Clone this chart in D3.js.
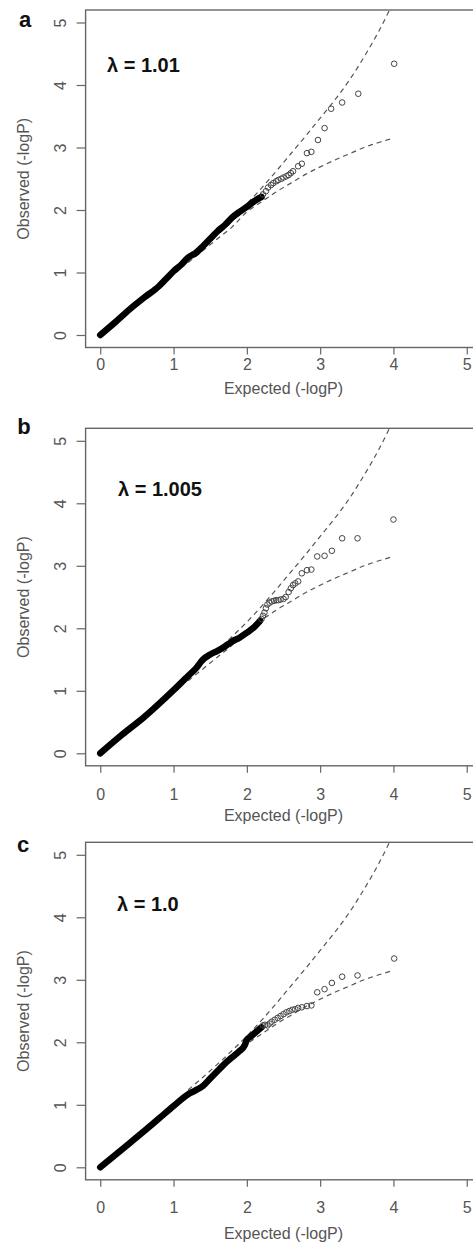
<!DOCTYPE html>
<html>
<head>
<meta charset="utf-8">
<script src="https://cdn.jsdelivr.net/npm/d3@7"></script>
<style>
  body { margin: 0; background: #fff; }
  svg { display: block; font-family: "Liberation Sans", Arial, sans-serif; }
</style>
</head>
<body>
<svg id="G1"></svg>
<script>
//* QQ plots, three panels *//

const PANEL_LETTERS = ['a', 'b', 'c'];
const LAMBDA_LABELS = ['\u03bb = 1.01', '\u03bb = 1.005', '\u03bb = 1.0'];
const X_TICKS = [0, 1, 2, 3, 4, 5];
const Y_TICKS = [0, 1, 2, 3, 4, 5];
const X_TITLE = 'Expected (-logP)';
const Y_TITLE = 'Observed (-logP)';

// dense part of each QQ curve: [expected, observed]
const DENSE_A = [[0,0],[0.2,0.2],[0.4,0.41],[0.6,0.6],[0.8,0.78],[0.9,0.9],[1.0,1.02],[1.1,1.12],[1.2,1.24],[1.3,1.31],[1.4,1.42],[1.5,1.54],[1.6,1.66],[1.7,1.76],[1.8,1.88],[1.9,1.97],[2.0,2.05],[2.1,2.14],[2.2,2.21]];
const DENSE_B = [[0,0],[0.3,0.3],[0.6,0.58],[0.8,0.79],[1.0,1.01],[1.2,1.24],[1.3,1.35],[1.4,1.5],[1.5,1.58],[1.6,1.64],[1.7,1.71],[1.8,1.79],[1.9,1.85],[2.0,1.93],[2.1,2.02],[2.18,2.12]];
const DENSE_C = [[0,0],[0.3,0.29],[0.6,0.58],[0.8,0.78],[1.0,0.98],[1.2,1.17],[1.3,1.23],[1.4,1.3],[1.5,1.42],[1.6,1.54],[1.7,1.66],[1.8,1.76],[1.9,1.86],[1.97,1.95],[2.0,2.04],[2.05,2.09],[2.12,2.16],[2.2,2.24]];

// single points in the tail
const POINTS_A = [[2.22,2.25],[2.26,2.3],[2.29,2.36],[2.33,2.4],[2.36,2.43],[2.4,2.46],[2.43,2.48],[2.47,2.5],[2.5,2.52],[2.54,2.54],[2.57,2.56],[2.6,2.59],[2.63,2.62],[2.7,2.7],[2.75,2.74],[2.82,2.91],[2.88,2.93],[2.97,3.12],[3.06,3.31],[3.15,3.62],[3.3,3.72],[3.52,3.86],[4.01,4.34]];
const POINTS_B = [[2.2,2.15],[2.22,2.2],[2.24,2.25],[2.26,2.32],[2.28,2.38],[2.31,2.41],[2.34,2.43],[2.37,2.44],[2.4,2.45],[2.43,2.45],[2.46,2.46],[2.5,2.47],[2.53,2.5],[2.57,2.58],[2.6,2.64],[2.63,2.69],[2.66,2.72],[2.7,2.75],[2.75,2.88],[2.82,2.93],[2.88,2.94],[2.96,3.15],[3.06,3.16],[3.16,3.24],[3.3,3.44],[3.51,3.44],[4.0,3.74]];
const POINTS_C = [[2.22,2.27],[2.25,2.28],[2.28,2.27],[2.31,2.3],[2.34,2.33],[2.38,2.36],[2.42,2.39],[2.46,2.42],[2.5,2.45],[2.54,2.48],[2.58,2.5],[2.62,2.52],[2.66,2.53],[2.7,2.55],[2.75,2.56],[2.82,2.58],[2.88,2.59],[2.96,2.8],[3.06,2.85],[3.16,2.95],[3.3,3.05],[3.51,3.07],[4.01,3.34]];

// confidence band (dashed), same in all panels
const BAND_UPPER = [[1.2,1.24],[1.4,1.44],[1.6,1.65],[1.8,1.87],[2.0,2.1],[2.2,2.35],[2.4,2.62],[2.6,2.9],[2.8,3.18],[3.0,3.47],[3.2,3.76],[3.4,4.08],[3.6,4.45],[3.8,4.86],[4.0,5.33]];
const BAND_LOWER = [[1.2,1.16],[1.4,1.35],[1.6,1.54],[1.8,1.73],[2.0,1.97],[2.2,2.13],[2.4,2.29],[2.6,2.43],[2.8,2.57],[3.0,2.69],[3.2,2.8],[3.4,2.9],[3.6,3.0],[3.8,3.08],[4.0,3.15]];

const DENSE = [DENSE_A, DENSE_B, DENSE_C];
const POINTS = [POINTS_A, POINTS_B, POINTS_C];

// layout
const WIDTH = 473;
const HEIGHT = 1245;
const LEFT = 85.6;
const PLOT_W = 395.8;
const PLOT_H = 337.5;
const TOPS = [10, 428.3, 842.3];
const TICK_PAD = [4.5, 15.5, 15];
const TITLE_OFF = [41, 50, 54];
const LAMBDA_POS = [[107, 72], [118, 496], [117, 911]];
const LETTER_POS = [[25, 27], [24, 434], [23, 852]];

const AXIS_COLOR = '#666';
const TEXT_COLOR = '#555';
const FONT = '"Liberation Sans", Arial, sans-serif';

const svg = d3.select('#G1')
.attr('width', WIDTH)
.attr('height', HEIGHT)
;

svg.append('rect')
.attr('width', WIDTH)
.attr('height', HEIGHT)
.attr('fill', '#fff');

//Scales (R default 4% extension of 0..5)
const xScale = d3.scaleLinear().domain([-0.2, 5.2]).range([LEFT, LEFT + PLOT_W]);

const line = d3.line()
   .x(d => xScale(d[0]))
   .curve(d3.curveMonotoneX);

PANEL_LETTERS.forEach((letter, i) => {
   const top = TOPS[i];
   const yScale = d3.scaleLinear().domain([-0.2, 5.2]).range([top + PLOT_H, top]);
   line.y(d => yScale(d[1]));

   const panel = svg.append('g');

   panel.append('clipPath')
   .attr('id', 'clip-' + letter)
   .append('rect')
   .attr('x', LEFT)
   .attr('y', top)
   .attr('width', PLOT_W)
   .attr('height', PLOT_H);

   const plot = panel.append('g').attr('clip-path', `url(#clip-${letter})`);

   // dashed band
   [BAND_UPPER, BAND_LOWER].forEach(band => {
      plot.append('path')
      .datum(band)
      .attr('d', line)
      .attr('fill', 'none')
      .attr('stroke', '#555')
      .attr('stroke-width', 1.2)
      .attr('stroke-dasharray', '5,4');
   });

   // dense points drawn as thick stroke
   plot.append('path')
   .datum(DENSE[i])
   .attr('d', line)
   .attr('fill', 'none')
   .attr('stroke', '#000')
   .attr('stroke-width', 6.5)
   .attr('stroke-linecap', 'round')
   .attr('stroke-linejoin', 'round');

   // tail points
   plot.selectAll('.pt')
   .data(POINTS[i])
   .enter()
   .append('circle')
   .classed('pt', true)
   .attr('cx', d => xScale(d[0]))
   .attr('cy', d => yScale(d[1]))
   .attr('r', 2.8)
   .attr('fill', 'none')
   .attr('stroke', '#444')
   .attr('stroke-width', 1);

   // box
   panel.append('rect')
   .attr('x', LEFT)
   .attr('y', top)
   .attr('width', PLOT_W)
   .attr('height', PLOT_H)
   .attr('fill', 'none')
   .attr('stroke', AXIS_COLOR)
   .attr('stroke-width', 1.4);

   //X-AXIS
   const xAxis = panel.append('g')
   .attr('transform', `translate(0, ${top + PLOT_H})`)
   .call(d3.axisBottom(xScale).tickValues(X_TICKS).tickFormat(d3.format('d'))
      .tickSize(7).tickSizeOuter(0).tickPadding(TICK_PAD[i]));
   xAxis.select('.domain').remove();
   xAxis.selectAll('line').attr('stroke', AXIS_COLOR).attr('stroke-width', 1.2);
   xAxis.selectAll('text')
   .attr('fill', TEXT_COLOR)
   .attr('font-size', '16px')
   .attr('font-family', FONT);

   //Y-AXIS
   const yAxis = panel.append('g')
   .attr('transform', `translate(${LEFT}, 0)`)
   .call(d3.axisLeft(yScale).tickValues(Y_TICKS).tickFormat(d3.format('d'))
      .tickSize(9).tickSizeOuter(0));
   yAxis.select('.domain').remove();
   yAxis.selectAll('line').attr('stroke', AXIS_COLOR).attr('stroke-width', 1.2);
   yAxis.selectAll('text')
   .attr('x', null)
   .attr('dy', '0.35em')
   .attr('transform', 'translate(-25.6,0) rotate(-90)')
   .attr('text-anchor', 'middle')
   .attr('fill', TEXT_COLOR)
   .attr('font-size', '16px')
   .attr('font-family', FONT);

   //Titles
   panel.append('text')
   .attr('x', xScale(2.5))
   .attr('y', top + PLOT_H + TITLE_OFF[i])
   .attr('dy', '0.35em')
   .attr('text-anchor', 'middle')
   .attr('fill', TEXT_COLOR)
   .attr('font-size', '16px')
   .text(X_TITLE);

   panel.append('text')
   .attr('transform', `translate(23, ${yScale(2.5)}) rotate(-90)`)
   .attr('dy', '0.35em')
   .attr('text-anchor', 'middle')
   .attr('fill', TEXT_COLOR)
   .attr('font-size', '16px')
   .text(Y_TITLE);

   //Lambda label
   panel.append('text')
   .attr('x', LAMBDA_POS[i][0])
   .attr('y', LAMBDA_POS[i][1])
   .attr('font-size', '20px')
   .attr('font-weight', 'bold')
   .attr('fill', '#111')
   .text(LAMBDA_LABELS[i]);

   //Panel letter
   svg.append('text')
   .attr('x', LETTER_POS[i][0])
   .attr('y', LETTER_POS[i][1])
   .attr('text-anchor', 'middle')
   .attr('font-size', '22px')
   .attr('font-weight', 'bold')
   .attr('fill', '#111')
   .text(letter);
});
</script>
</body>
</html>
